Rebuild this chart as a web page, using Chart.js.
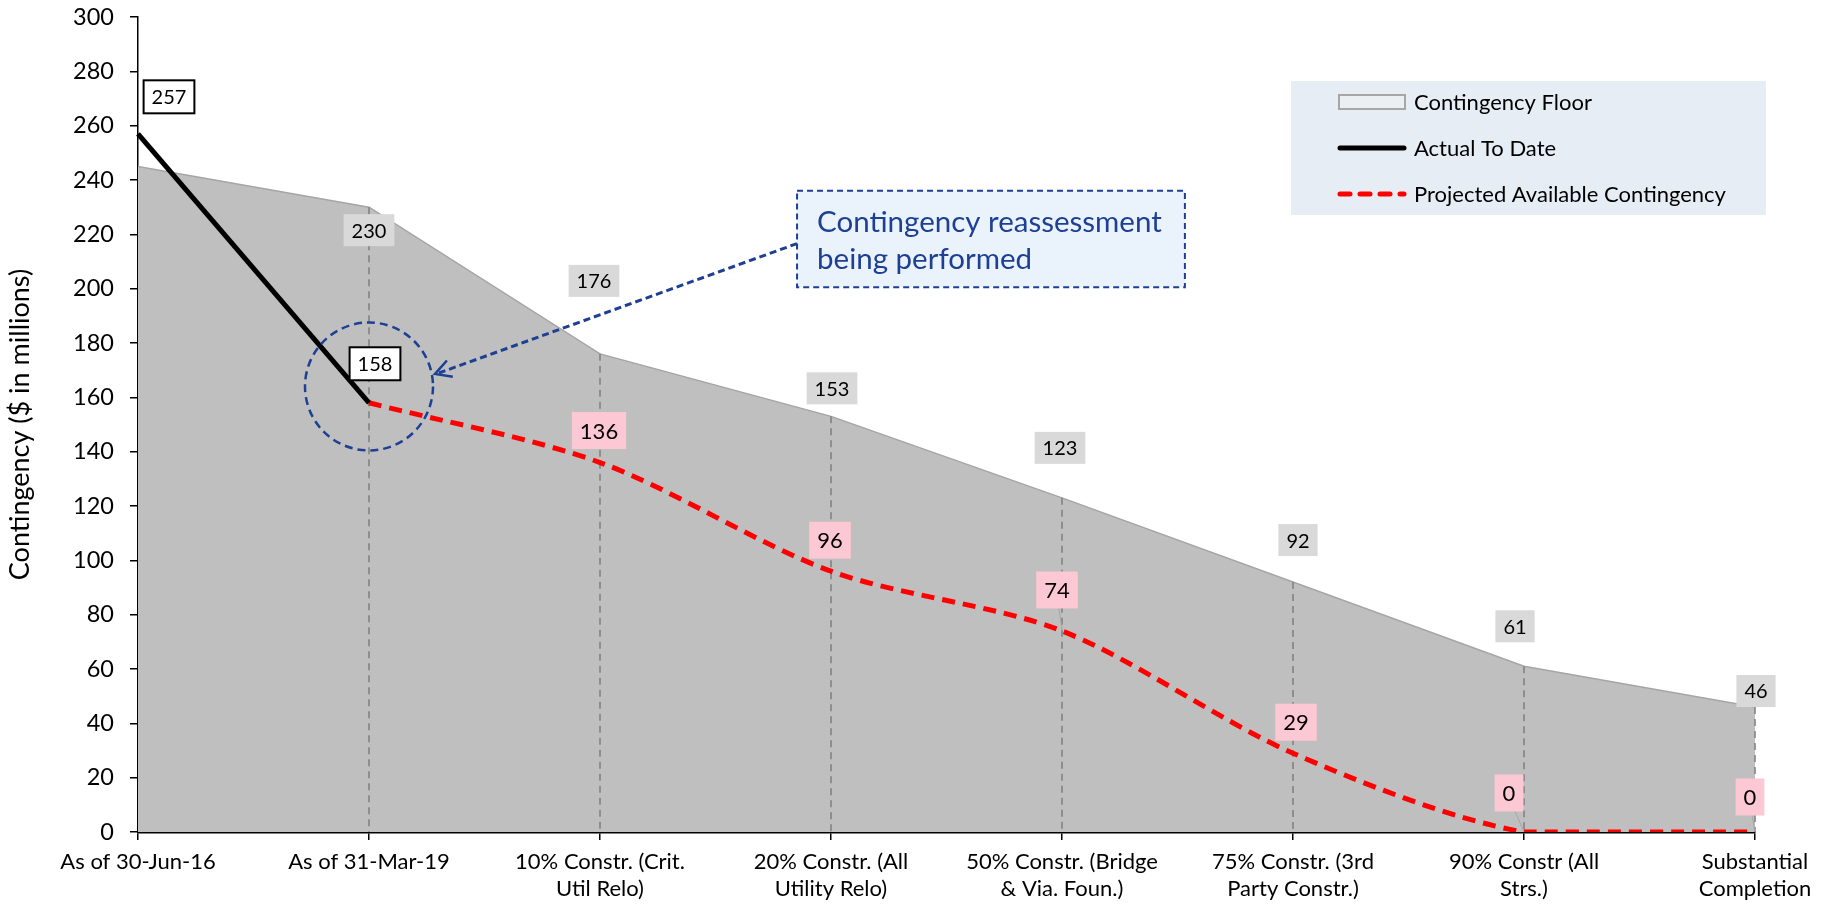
<!DOCTYPE html>
<html>
<head>
<meta charset="utf-8">
<script src="https://cdn.jsdelivr.net/npm/chart.js@4.4.0/dist/chart.umd.min.js"></script>
<style>
  html, body { margin: 0; padding: 0; background: #fff; }
</style>
</head>
<body>
<canvas id="chart" width="1833" height="904"></canvas>
<script>
// ---------------------------------------------------------------
// DATA
// ---------------------------------------------------------------
const categories = [
    'As of 30-Jun-16',
    'As of 31-Mar-19',
    ['10% Constr. (Crit.', 'Util Relo)'],
    ['20% Constr. (All', 'Utility Relo)'],
    ['50% Constr. (Bridge', '& Via. Foun.)'],
    ['75% Constr. (3rd', 'Party Constr.)'],
    ['90% Constr (All', 'Strs.)'],
    ['Substantial', 'Completion']
];
const floorValues = [245, 230, 176, 153, 123, 92, 61, 46];
const actualValues = [257, 158, null, null, null, null, null, null];
const projectedValues = [null, 158, 136, 96, 74, 29, 0, 0];
const yMin = 0, yMax = 300, yStep = 20;

const seriesNames = ['Contingency Floor', 'Actual To Date', 'Projected Available Contingency'];
const noteLines = ['Contingency reassessment', 'being performed'];

// label offsets from the point (px), null = no label
const floorLabelOffsets = [null, [0, 23], [-6, -73], [1, -28], [-2, -50], [5, -42], [-9, -40], [1, -16]];
const actualLabelOffsets = [[31, -37], [6, -39]];
const projLabelOffsets = [null, null, [-1, -32], [-1, -31], [-5, -41], [3, -31], [-15, -39], [-5, -35]];

const FONT = 'Lato, "Open Sans", sans-serif';
const BLUE = '#1d3f94';

function drawBox(ctx, x, y, text, size, fill, stroke, h) {
    ctx.save();
    ctx.font = size + 'px ' + FONT;
    let w = ctx.measureText(text).width + 16;
    ctx.fillStyle = fill;
    ctx.fillRect(x - w / 2, y - h / 2, w, h);
    if (stroke) {
        ctx.strokeStyle = stroke;
        ctx.lineWidth = 2;
        ctx.strokeRect(x - w / 2, y - h / 2, w, h);
    }
    ctx.fillStyle = '#000';
    ctx.textAlign = 'center';
    ctx.textBaseline = 'middle';
    ctx.fillText(text, x, y + 1);
    ctx.restore();
}

//---------------------------------------------------------------
// DROP LINES (under the other series, over the floor fill)
//---------------------------------------------------------------
const dropLines = {
    id: 'dropLines',
    afterDatasetDraw(chart, args) {
        if (args.index !== 0) return;
        let ctx = chart.ctx, x = chart.scales.x, y = chart.scales.y;
        ctx.save();
        ctx.strokeStyle = '#7f7f7f';
        ctx.lineWidth = 1.5;
        ctx.setLineDash([7, 5]);
        for (let i = 1; i < floorValues.length; i++) {
            ctx.beginPath();
            ctx.moveTo(x.getPixelForValue(i), y.getPixelForValue(floorValues[i]));
            ctx.lineTo(x.getPixelForValue(i), y.getPixelForValue(0));
            ctx.stroke();
        }
        ctx.restore();
    }
};

//---------------------------------------------------------------
// DATA LABELS, NOTE, LEGEND
//---------------------------------------------------------------
const overlay = {
    id: 'overlay',
    afterDatasetsDraw(chart) {
        let ctx = chart.ctx, xs = chart.scales.x, ys = chart.scales.y;

        // leader lines for labels close to the line
        ctx.save();
        ctx.strokeStyle = '#a6a6a6';
        ctx.lineWidth = 1;
        [4, 6, 7].forEach(i => {
            let px = xs.getPixelForValue(i), py = ys.getPixelForValue(projectedValues[i]);
            ctx.beginPath();
            ctx.moveTo(px + projLabelOffsets[i][0] * 0.6, py + projLabelOffsets[i][1] + 18);
            ctx.lineTo(px, py);
            ctx.stroke();
        });
        ctx.restore();

        floorValues.forEach((v, i) => {
            let o = floorLabelOffsets[i];
            if (!o) return;
            drawBox(ctx, xs.getPixelForValue(i) + o[0], ys.getPixelForValue(v) + o[1], String(v), 20, '#d9d9d9', null, 32);
        });
        actualValues.forEach((v, i) => {
            let o = actualLabelOffsets[i];
            if (v === null || !o) return;
            drawBox(ctx, xs.getPixelForValue(i) + o[0], ys.getPixelForValue(v) + o[1], String(v), 20, '#ffffff', '#000', 33);
        });
        projectedValues.forEach((v, i) => {
            let o = projLabelOffsets[i];
            if (v === null || !o) return;
            drawBox(ctx, xs.getPixelForValue(i) + o[0], ys.getPixelForValue(v) + o[1], String(v), 22, '#fcc8d4', null, 37);
        });

        // circle round the reassessment point
        let cx = xs.getPixelForValue(1), cy = ys.getPixelForValue(164);
        ctx.save();
        ctx.strokeStyle = BLUE;
        ctx.lineWidth = 2.5;
        ctx.setLineDash([8, 5]);
        ctx.beginPath();
        ctx.arc(cx, cy, 64, 0, Math.PI * 2);
        ctx.stroke();

        // note box
        let bx1 = xs.getPixelForValue(2.853), bx2 = xs.getPixelForValue(4.532);
        let by1 = ys.getPixelForValue(236), by2 = ys.getPixelForValue(200.5);
        ctx.setLineDash([6, 4]);
        ctx.lineWidth = 2;
        ctx.fillStyle = '#eaf3fb';
        ctx.fillRect(bx1, by1, bx2 - bx1, by2 - by1);
        ctx.strokeRect(bx1, by1, bx2 - bx1, by2 - by1);
        ctx.setLineDash([]);
        ctx.fillStyle = BLUE;
        ctx.font = '29.5px ' + FONT;
        ctx.textAlign = 'left';
        ctx.textBaseline = 'middle';
        ctx.fillText(noteLines[0], bx1 + 20, by1 + 32);
        ctx.fillText(noteLines[1], bx1 + 20, by1 + 69);

        // arrow from box to circle
        let ax1 = bx1, ay1 = ys.getPixelForValue(216.6);
        let ax2 = cx + 66, ay2 = ys.getPixelForValue(168.6);
        ctx.lineWidth = 3;
        ctx.setLineDash([7, 4]);
        ctx.beginPath();
        ctx.moveTo(ax1, ay1);
        ctx.lineTo(ax2 + 4, ay2 - 1);
        ctx.stroke();
        ctx.setLineDash([]);
        let ang = Math.atan2(ay1 - ay2, ax1 - ax2);
        ctx.lineWidth = 2.5;
        ctx.beginPath();
        ctx.moveTo(ax2 + 18 * Math.cos(ang + 0.5), ay2 + 18 * Math.sin(ang + 0.5));
        ctx.lineTo(ax2, ay2);
        ctx.lineTo(ax2 + 18 * Math.cos(ang - 0.5), ay2 + 18 * Math.sin(ang - 0.5));
        ctx.stroke();
        ctx.restore();

        // legend
        let lx = 1291, ly = 81;
        ctx.save();
        ctx.fillStyle = '#e6edf4';
        ctx.fillRect(lx, ly, 475, 134);
        let rows = [ly + 21, ly + 67, ly + 113];
        ctx.fillStyle = '#eceff2';
        ctx.strokeStyle = '#a6a6a6';
        ctx.lineWidth = 2;
        ctx.fillRect(lx + 48, rows[0] - 7, 66, 14);
        ctx.strokeRect(lx + 48, rows[0] - 7, 66, 14);
        ctx.lineCap = 'round';
        ctx.strokeStyle = '#000';
        ctx.lineWidth = 5;
        ctx.beginPath();
        ctx.moveTo(lx + 49, rows[1]);
        ctx.lineTo(lx + 113, rows[1]);
        ctx.stroke();
        ctx.strokeStyle = '#ff0000';
        ctx.setLineDash([10, 10]);
        ctx.beginPath();
        ctx.moveTo(lx + 49, rows[2]);
        ctx.lineTo(lx + 113, rows[2]);
        ctx.stroke();
        ctx.setLineDash([]);
        ctx.fillStyle = '#000';
        ctx.font = '22px ' + FONT;
        ctx.textAlign = 'left';
        ctx.textBaseline = 'middle';
        seriesNames.forEach((n, i) => ctx.fillText(n, lx + 123, rows[i] + 1));
        ctx.restore();
    }
};

var ctx = document.getElementById('chart').getContext('2d');
var chart = new Chart(ctx, {
    type: 'line',
    data: {
        labels: categories,
        datasets: [{
            label: seriesNames[0],
            data: floorValues,
            fill: 'origin',
            backgroundColor: '#bfbfbf',
            borderColor: '#a6a6a6',
            borderWidth: 1.5,
            pointRadius: 0,
            order: 3
        }, {
            label: seriesNames[1],
            data: actualValues,
            borderColor: '#000000',
            borderWidth: 5,
            pointRadius: 0,
            fill: false,
            order: 1
        }, {
            label: seriesNames[2],
            data: projectedValues,
            borderColor: '#ff0000',
            borderWidth: 5,
            borderDash: [13, 8],
            tension: 0.3,
            pointRadius: 0,
            fill: false,
            order: 2
        }]
    },
    options: {
        responsive: false,
        animation: false,
        layout: { padding: { left: 0, right: 78, top: 17, bottom: 0 } },
        plugins: {
            legend: { display: false },
            tooltip: { enabled: false }
        },
        scales: {
            x: {
                offset: false,
                grid: { display: true, drawOnChartArea: false, drawTicks: true, tickLength: 8, color: '#000', lineWidth: 1.5 },
                border: { display: true, color: '#000', width: 2.5 },
                ticks: { color: '#000', font: { family: FONT, size: 22, lineHeight: 1.2 }, padding: 9, maxRotation: 0, autoSkip: false },
                afterFit: s => { s.height = 72; }
            },
            y: {
                min: yMin,
                max: yMax,
                grid: { display: true, drawOnChartArea: false, drawTicks: true, tickLength: 8, color: '#000', lineWidth: 1.5 },
                border: { display: true, color: '#000', width: 1.5 },
                ticks: { stepSize: yStep, color: '#000', font: { family: FONT, size: 23.5 }, padding: 16 },
                title: { display: true, text: 'Contingency ($ in millions)', color: '#000', font: { family: FONT, size: 27 }, padding: { top: 4, bottom: 4 } },
                afterFit: s => { s.width = 138; s.paddingTop = 0; s.paddingBottom = 0; }
            }
        }
    },
    plugins: [dropLines, overlay]
});
</script>
</body>
</html>
